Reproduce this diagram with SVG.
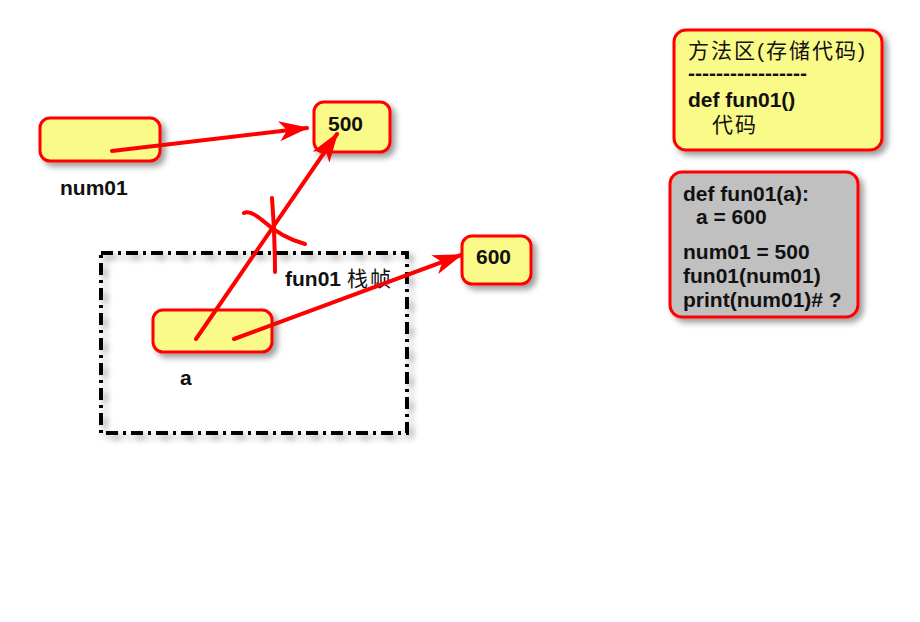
<svg xmlns="http://www.w3.org/2000/svg" width="920" height="622" viewBox="0 0 920 622">
<style>
.box{fill:#fafa88;stroke:#ff0000;stroke-width:3;filter:url(#sh)}
.gbox{fill:#c0c0c0;stroke:#ff0000;stroke-width:3;filter:url(#sh)}
.t{font-family:"Liberation Sans",Arial,sans-serif;font-weight:bold;font-size:21px;fill:#111}
.c{font-family:"Liberation Sans","Noto Sans CJK SC",sans-serif;font-size:21px;fill:#111;letter-spacing:2px}
.ln{stroke:#ff0000;stroke-width:4;fill:none;stroke-linecap:round}
</style>
<defs>
<filter id="sh" x="-20%" y="-20%" width="150%" height="160%">
<feGaussianBlur in="SourceAlpha" stdDeviation="3"/>
<feOffset dx="4" dy="4" result="b"/>
<feComponentTransfer><feFuncA type="linear" slope="0.4"/></feComponentTransfer>
<feMerge><feMergeNode/><feMergeNode in="SourceGraphic"/></feMerge>
</filter>
<marker id="ah" viewBox="0 0 30 20" refX="28" refY="10" markerWidth="30" markerHeight="20" markerUnits="userSpaceOnUse" orient="auto">
<path d="M0,0 L30,10 L0,20 L8,10 Z" fill="#ff0000"/>
</marker>
</defs>
<rect width="920" height="622" fill="#ffffff"/>
<g id="frame">
<rect x="101" y="253" width="306" height="180" fill="none" stroke="#000" stroke-width="4" stroke-dasharray="12,5,3,5" filter="url(#sh)"/>
<text x="285" y="286"><tspan class="t">fun01</tspan><tspan class="c" dx="6">栈帧</tspan></text>
</g>
<g id="num01">
<rect class="box" x="40" y="118" width="120" height="43" rx="10"/>
<text class="t" x="60" y="195">num01</text>
</g>
<g id="v500">
<rect class="box" x="314" y="102" width="76" height="50" rx="10"/>
<text class="t" x="328" y="131">500</text>
</g>
<g id="v600">
<rect class="box" x="462" y="236" width="69" height="48" rx="10"/>
<text class="t" x="476" y="264">600</text>
</g>
<g id="a">
<rect class="box" x="153" y="310" width="119" height="42" rx="10"/>
<text class="t" x="180" y="385">a</text>
</g>
<g id="method">
<rect class="box" x="674" y="30" width="208" height="120" rx="12"/>
<text class="c" x="688" y="58">方法区(存储代码)</text>
<text class="t" x="688" y="80">-----------------</text>
<text class="t" x="688" y="107">def fun01()</text>
<text class="c" x="712" y="132">代码</text>
</g>
<g id="code">
<rect class="gbox" x="670" y="172" width="188" height="145" rx="12"/>
<text class="t" x="683" y="201">def fun01(a):</text>
<text class="t" x="696" y="224">a = 600</text>
<text class="t" x="683" y="259">num01 = 500</text>
<text class="t" x="683" y="283">fun01(num01)</text>
<text class="t" x="683" y="307">print(num01)# ?</text>
</g>
<g id="connectors">
<line class="ln" x1="112" y1="151" x2="307" y2="128" marker-end="url(#ah)"/>
<line class="ln" x1="196" y1="339" x2="337" y2="134" marker-end="url(#ah)"/>
<line class="ln" x1="234" y1="339" x2="461" y2="255" marker-end="url(#ah)"/>
<path class="ln" d="M244,213 Q250,210 262,220 Q282,238 305,244"/>
<path class="ln" d="M272,198 Q275,235 275,272"/>
</g>
</svg>
